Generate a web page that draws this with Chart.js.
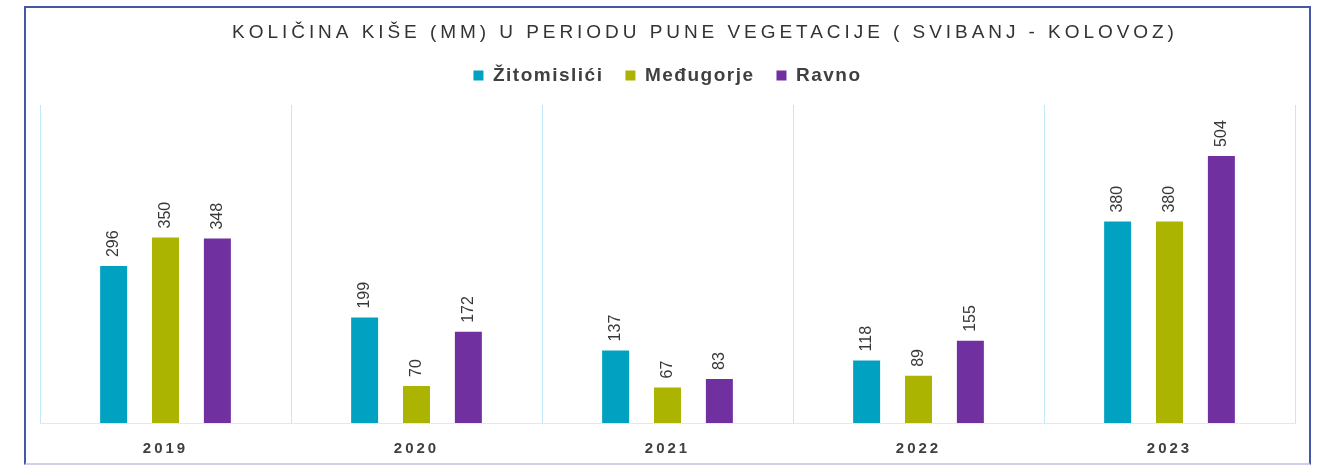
<!DOCTYPE html>
<html>
<head>
<meta charset="utf-8">
<script src="https://cdn.jsdelivr.net/npm/chart.js@4.4.0/dist/chart.umd.min.js"></script>
<style>
  html, body { margin: 0; padding: 0; background: #fff; }
  #wrap { position: relative; width: 1326px; height: 466px; }
  #frame {
    position: absolute; left: 24px; top: 6px; width: 1283px; height: 455px;
    border: 2px solid #4656a8; border-bottom-color: #cfcfe6; pointer-events: none;
  }
  canvas { position: absolute; left: 0; top: 0; }
</style>
</head>
<body>
<div id="wrap">
  <canvas id="rain-chart" width="1326" height="466"></canvas>
  <div id="frame"></div>
</div>
<script>
const categories = ['2019', '2020', '2021', '2022', '2023']
const zitomislici = [296, 199, 137, 118, 380]
const medugorje = [350, 70, 67, 89, 380]
const ravno = [348, 172, 83, 155, 504]
const seriesNames = ['Žitomislići', 'Međugorje', 'Ravno']
const titleText = 'KOLIČINA KIŠE (MM) U PERIODU PUNE VEGETACIJE ( SVIBANJ - KOLOVOZ)'

const FONT = '"Liberation Sans", Arial, sans-serif'
const TEXT = '#404040'

// title, letter spacing and the rotated value labels
const decor = {
  id: 'decor',
  beforeInit (chart) {
    const fit = chart.legend.fit
    chart.legend.fit = function () {
      fit.call(this)
      this.height += 10
    }
  },
  beforeLayout (chart) { chart.ctx.letterSpacing = '1.5px' },
  beforeDraw (chart) { chart.ctx.letterSpacing = '1.5px' },
  afterDatasetsDraw (chart) {
    const ctx = chart.ctx
    ctx.save()
    ctx.letterSpacing = '0px'
    ctx.font = '16px ' + FONT
    ctx.fillStyle = '#383838'
    ctx.textAlign = 'left'
    ctx.textBaseline = 'middle'
    chart.data.datasets.forEach((ds, i) => {
      chart.getDatasetMeta(i).data.forEach((bar, j) => {
        ctx.save()
        ctx.translate(bar.x, bar.y - 9)
        ctx.rotate(-Math.PI / 2)
        ctx.fillText(String(ds.data[j]), 0, 0)
        ctx.restore()
      })
    })
    ctx.restore()
    // tick labels are drawn after this (ticks.z = 1)
    ctx.letterSpacing = '3px'
  },
  afterDraw (chart) {
    const ctx = chart.ctx
    ctx.save()
    ctx.letterSpacing = '3.95px'
    ctx.font = '19px ' + FONT
    ctx.fillStyle = '#333333'
    ctx.textAlign = 'center'
    ctx.textBaseline = 'middle'
    ctx.fillText(titleText, 705, 33)
    ctx.restore()
    ctx.letterSpacing = '0px'
  }
}

const colors = ['#00a1c1', '#abb400', '#7030a0']
const values = [zitomislici, medugorje, ravno]

const data = {
  labels: categories,
  datasets: seriesNames.map((name, i) => ({
    label: name,
    data: values[i],
    backgroundColor: colors[i],
    borderWidth: 0,
    barPercentage: 0.52,
    categoryPercentage: 0.62
  }))
}

const options = {
  responsive: false,
  animation: false,
  devicePixelRatio: 1,
  layout: { padding: { left: 40, right: 31, top: 44, bottom: 0 } },
  scales: {
    x: {
      grid: { color: '#c2e9f9', drawTicks: false, offset: true },
      border: { color: '#e2e8f0' },
      ticks: { z: 1, padding: 17, color: TEXT, font: { family: FONT, size: 15, weight: 'bold' } },
      afterFit (scale) { scale.height = 43 }
    },
    y: { display: false, min: 0, max: 600 }
  },
  plugins: {
    title: { display: false },
    tooltip: { enabled: false },
    legend: {
      position: 'top',
      labels: {
        boxWidth: 10,
        boxHeight: 10,
        padding: 22,
        color: TEXT,
        font: { family: FONT, size: 19, weight: 'bold' }
      }
    }
  }
}

new Chart(document.getElementById('rain-chart').getContext('2d'), { type: 'bar', data, options, plugins: [decor] })
</script>
</body>
</html>
